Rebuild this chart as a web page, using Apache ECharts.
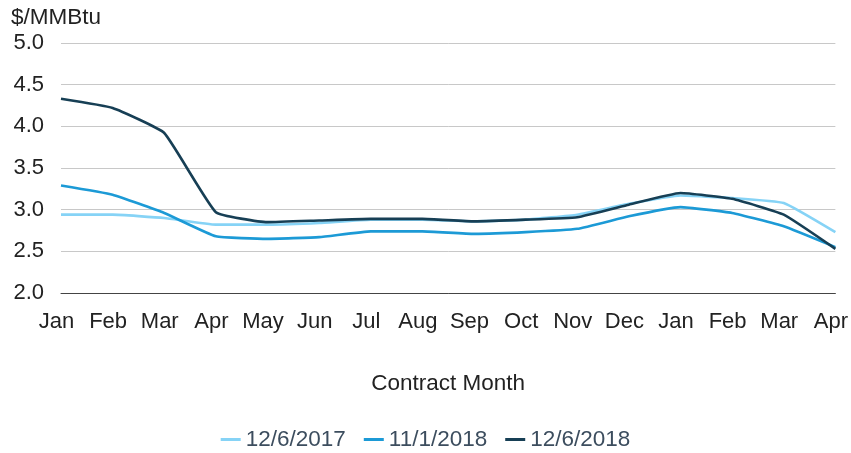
<!DOCTYPE html>
<html><head><meta charset="utf-8">
<script src="https://cdn.jsdelivr.net/npm/echarts@6/dist/echarts.min.js"></script>
<style>html,body{margin:0;padding:0;background:#fff}#c{width:851px;height:453px}</style>
</head><body><div id="c"></div>
<script>
const months = ['Jan','Feb','Mar','Apr','May','Jun','Jul','Aug','Sep','Oct','Nov','Dec','Jan','Feb','Mar','Apr'];
const s2017 = [2.94,2.94,2.90,2.82,2.82,2.84,2.88,2.88,2.86,2.88,2.94,3.07,3.17,3.14,3.08,2.73];
const s1101 = [3.29,3.18,2.96,2.68,2.65,2.67,2.74,2.74,2.71,2.73,2.77,2.92,3.03,2.96,2.80,2.55];
const s1206 = [4.33,4.22,3.92,2.97,2.85,2.87,2.89,2.89,2.86,2.88,2.91,3.06,3.20,3.13,2.94,2.53];
const names = ['12/6/2017','11/1/2018','12/6/2018'];
const colors = ['#86d3f6','#1c9ad6','#173f55'];
const font = 'Liberation Sans, Arial, sans-serif';
const chart = echarts.init(document.getElementById('c'));
chart.setOption({
  animation:false,
  textStyle:{fontFamily:font},
  grid:{left:61,right:15,top:43,bottom:160},
  legend:{bottom:-3,left:'center',icon:'rect',itemWidth:20,itemHeight:3,itemGap:18,
    textStyle:{fontSize:22.5,color:'#3c4d5e',fontFamily:font},data:names},
  xAxis:{type:'category',data:months,boundaryGap:false,
    name:'Contract Month',nameLocation:'middle',nameGap:79,
    nameTextStyle:{fontSize:22.5,color:'#222',fontFamily:font},
    axisLine:{lineStyle:{color:'#444',width:1}},axisTick:{show:false},
    axisLabel:{fontSize:22,color:'#222',margin:18,interval:0,padding:[0,9,0,0],fontFamily:font},
    splitLine:{show:false}},
  yAxis:{type:'value',min:2,max:5,interval:0.5,
    name:'$/MMBtu',nameLocation:'end',nameGap:14,
    nameTextStyle:{fontSize:22.5,color:'#222',align:'left',padding:[0,0,0,-50],fontFamily:font},
    axisLine:{show:false},axisTick:{show:false},
    axisLabel:{fontSize:22,color:'#222',margin:17,formatter:v=>v.toFixed(1),fontFamily:font},
    splitLine:{lineStyle:{color:'#c8c8c8',width:1}}},
  series:[s2017,s1101,s1206].map((d,i)=>({
    name:names[i],type:'line',data:d,symbol:'none',smooth:0.12,
    lineStyle:{color:colors[i],width:2.6},itemStyle:{color:colors[i]}
  }))
});
</script></body></html>
